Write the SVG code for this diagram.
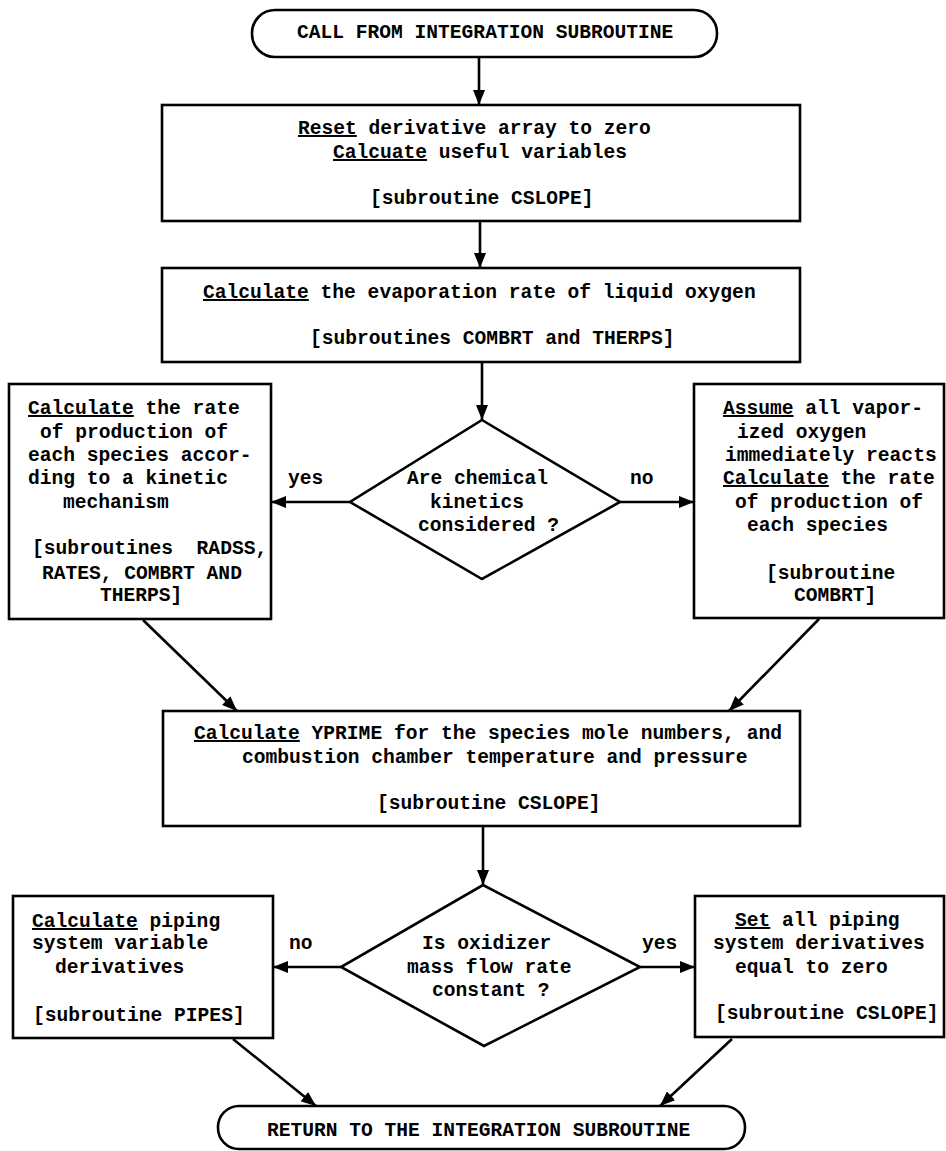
<svg xmlns="http://www.w3.org/2000/svg" width="946" height="1151" viewBox="0 0 946 1151">
<style>
.box{fill:#fff;stroke:#000;stroke-width:2.6}
.ln{fill:none;stroke:#000;stroke-width:2.6}
text{font-family:"Liberation Mono","Courier New",monospace;font-size:19.6px;font-weight:bold;fill:#000;white-space:pre}
.u{text-decoration:underline}
</style>
<defs>
<marker id="ah" viewBox="0 0 15 12" refX="15" refY="6" markerWidth="15" markerHeight="12" markerUnits="userSpaceOnUse" orient="auto">
<path d="M0,0 L15,6 L0,12 z" fill="#000"/>
</marker>
</defs>
<rect width="946" height="1151" fill="#fff"/>
<g id="connectors">
<line class="ln" x1="479" y1="57" x2="479" y2="105" marker-end="url(#ah)"/>
<line class="ln" x1="480" y1="221" x2="480" y2="268" marker-end="url(#ah)"/>
<line class="ln" x1="482" y1="362" x2="482" y2="420" marker-end="url(#ah)"/>
<line class="ln" x1="350" y1="502" x2="271" y2="502" marker-end="url(#ah)"/>
<line class="ln" x1="620" y1="502" x2="694" y2="502" marker-end="url(#ah)"/>
<line class="ln" x1="143" y1="620" x2="237" y2="711" marker-end="url(#ah)"/>
<line class="ln" x1="819" y1="619" x2="729" y2="711" marker-end="url(#ah)"/>
<line class="ln" x1="483" y1="826" x2="483" y2="885" marker-end="url(#ah)"/>
<line class="ln" x1="341" y1="967" x2="273" y2="967" marker-end="url(#ah)"/>
<line class="ln" x1="640" y1="967" x2="695" y2="967" marker-end="url(#ah)"/>
<line class="ln" x1="233" y1="1039" x2="316" y2="1106" marker-end="url(#ah)"/>
<line class="ln" x1="732" y1="1039" x2="660" y2="1106" marker-end="url(#ah)"/>
<text x="288" y="484">yes</text>
<text x="630" y="484">no</text>
<text x="289" y="949">no</text>
<text x="642" y="949">yes</text>
</g>
<g id="start">
<rect class="box" x="252" y="10" width="465" height="47" rx="23" ry="23"/>
<text x="297" y="38">CALL FROM INTEGRATION SUBROUTINE</text>
</g>
<g id="reset">
<rect class="box" x="162" y="105" width="638" height="116"/>
<text x="298" y="134"><tspan class="u">Reset</tspan> derivative array to zero</text>
<text x="333" y="158"><tspan class="u">Calcuate</tspan> useful variables</text>
<text x="370" y="204">[subroutine CSLOPE]</text>
</g>
<g id="evap">
<rect class="box" x="162" y="268" width="638" height="94"/>
<text x="203" y="298"><tspan class="u">Calculate</tspan> the evaporation rate of liquid oxygen</text>
<text x="310" y="344">[subroutines COMBRT and THERPS]</text>
</g>
<g id="kinetics">
<rect class="box" x="9" y="384" width="262" height="235"/>
<text x="28" y="414"><tspan class="u">Calculate</tspan> the rate</text>
<text x="40" y="438">of production of</text>
<text x="28" y="461">each species accor-</text>
<text x="28" y="484">ding to a kinetic</text>
<text x="63" y="508">mechanism</text>
<text x="32" y="554">[subroutines  RADSS,</text>
<text x="42" y="579">RATES, COMBRT AND</text>
<text x="100" y="601">THERPS]</text>
</g>
<g id="decision1">
<polygon class="box" points="482,420 620,502 482,579 350,502"/>
<text x="407" y="484">Are chemical</text>
<text x="430" y="508">kinetics</text>
<text x="418" y="531">considered ?</text>
</g>
<g id="assume">
<rect class="box" x="694" y="384" width="250" height="234"/>
<text x="723" y="414"><tspan class="u">Assume</tspan> all vapor-</text>
<text x="737" y="438">ized oxygen</text>
<text x="725" y="461">immediately reacts</text>
<text x="723" y="484"><tspan class="u">Calculate</tspan> the rate</text>
<text x="735" y="508">of production of</text>
<text x="747" y="531">each species</text>
<text x="766" y="579">[subroutine</text>
<text x="794" y="601">COMBRT]</text>
</g>
<g id="yprime">
<rect class="box" x="163" y="711" width="637" height="115"/>
<text x="194" y="739"><tspan class="u">Calculate</tspan> YPRIME for the species mole numbers, and</text>
<text x="242" y="763">combustion chamber temperature and pressure</text>
<text x="377" y="809">[subroutine CSLOPE]</text>
</g>
<g id="decision2">
<polygon class="box" points="483,885 640,967 484,1046 341,967"/>
<text x="422" y="949">Is oxidizer</text>
<text x="407" y="973">mass flow rate</text>
<text x="432" y="996">constant ?</text>
</g>
<g id="pipes">
<rect class="box" x="13" y="896" width="260" height="142"/>
<text x="32" y="927"><tspan class="u">Calculate</tspan> piping</text>
<text x="32" y="949">system variable</text>
<text x="55" y="973">derivatives</text>
<text x="33" y="1021">[subroutine PIPES]</text>
</g>
<g id="setzero">
<rect class="box" x="695" y="896" width="249" height="141"/>
<text x="735" y="926"><tspan class="u">Set</tspan> all piping</text>
<text x="713" y="949">system derivatives</text>
<text x="735" y="973">equal to zero</text>
<text x="715" y="1019">[subroutine CSLOPE]</text>
</g>
<g id="end">
<rect class="box" x="218" y="1106" width="527" height="43" rx="21" ry="21"/>
<text x="267" y="1136">RETURN TO THE INTEGRATION SUBROUTINE</text>
</g>
</svg>
